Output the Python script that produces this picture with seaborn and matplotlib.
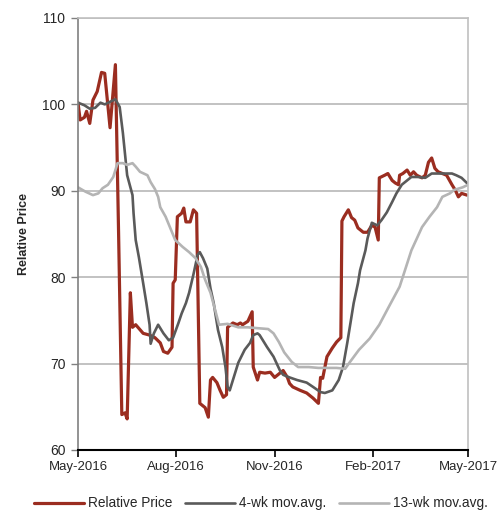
import numpy as np
import pandas as pd
import matplotlib.pyplot as plt
import matplotlib.dates as mdates
import seaborn as sns

# Relative price (daily-ish readings)
price_dates = ['2016-05-01', '2016-05-03', '2016-05-07', '2016-05-09', '2016-05-12', '2016-05-15',
               '2016-05-19', '2016-05-23', '2016-05-26', '2016-05-31', '2016-06-05', '2016-06-08',
               '2016-06-11', '2016-06-14', '2016-06-16', '2016-06-19', '2016-06-21', '2016-06-24',
               '2016-07-01', '2016-07-07', '2016-07-12', '2016-07-17', '2016-07-20', '2016-07-24',
               '2016-07-28', '2016-07-29', '2016-07-31', '2016-08-02', '2016-08-06', '2016-08-08',
               '2016-08-10', '2016-08-14', '2016-08-17', '2016-08-20', '2016-08-23', '2016-08-28',
               '2016-08-31', '2016-09-02', '2016-09-04', '2016-09-08', '2016-09-11', '2016-09-14',
               '2016-09-17', '2016-09-18', '2016-09-23', '2016-09-27', '2016-09-30', '2016-10-02',
               '2016-10-07', '2016-10-11', '2016-10-12', '2016-10-16', '2016-10-18', '2016-10-23',
               '2016-10-28', '2016-11-01', '2016-11-06', '2016-11-09', '2016-11-13', '2016-11-15',
               '2016-11-18', '2016-11-25', '2016-12-01', '2016-12-07', '2016-12-12', '2016-12-14',
               '2016-12-16', '2016-12-20', '2016-12-25', '2016-12-29', '2017-01-02', '2017-01-03',
               '2017-01-05', '2017-01-09', '2017-01-12', '2017-01-15', '2017-01-18', '2017-01-23',
               '2017-01-27', '2017-01-31', '2017-02-03', '2017-02-06', '2017-02-07', '2017-02-12',
               '2017-02-15', '2017-02-19', '2017-02-22', '2017-02-25', '2017-02-26', '2017-03-01',
               '2017-03-05', '2017-03-08', '2017-03-11', '2017-03-14', '2017-03-19', '2017-03-22',
               '2017-03-25', '2017-03-28', '2017-03-31', '2017-04-03', '2017-04-07', '2017-04-11',
               '2017-04-16', '2017-04-19', '2017-04-22', '2017-04-25', '2017-04-30']
price_vals = [100.2, 98.2, 98.5, 99.2, 97.8, 100.5,
              101.5, 103.7, 103.6, 97.3, 104.6, 85.0,
              64.1, 64.3, 63.6, 78.2, 74.2, 74.5,
              73.5, 73.3, 73.0, 72.4, 71.4, 71.2,
              71.9, 79.3, 79.7, 87.0, 87.4, 88.0,
              86.4, 86.4, 87.8, 87.4, 65.4, 64.9,
              63.8, 68.1, 68.4, 67.8, 66.9, 66.1,
              66.4, 74.2, 74.7, 74.5, 74.7, 74.5,
              74.9, 76.0, 69.6, 68.1, 69.0, 68.9,
              69.0, 68.4, 68.9, 69.2, 68.4, 67.7,
              67.3, 66.9, 66.6, 66.0, 65.4, 68.4,
              68.3, 70.8, 71.8, 72.5, 73.0, 86.5,
              87.0, 87.8, 86.9, 86.6, 85.7, 85.2,
              85.2, 86.0, 85.8, 84.3, 91.5, 91.8,
              92.0, 91.2, 90.9, 90.7, 91.8, 92.0,
              92.4, 91.8, 92.2, 91.8, 91.5, 91.8,
              93.3, 93.8, 92.6, 92.2, 92.0, 91.8,
              90.7, 90.1, 89.3, 89.7, 89.5]

# 4-week moving average
ma4_dates = ['2016-05-01', '2016-05-07', '2016-05-12', '2016-05-17', '2016-05-22', '2016-05-26',
             '2016-05-31', '2016-06-05', '2016-06-09', '2016-06-12', '2016-06-16', '2016-06-21',
             '2016-06-22', '2016-06-24', '2016-06-27', '2016-07-01', '2016-07-04', '2016-07-07',
             '2016-07-08', '2016-07-11', '2016-07-15', '2016-07-20', '2016-07-25', '2016-07-29',
             '2016-08-03', '2016-08-06', '2016-08-10', '2016-08-13', '2016-08-17', '2016-08-21',
             '2016-08-23', '2016-08-26', '2016-08-30', '2016-09-02', '2016-09-05', '2016-09-09',
             '2016-09-13', '2016-09-16', '2016-09-18', '2016-09-20', '2016-09-23', '2016-09-28',
             '2016-10-04', '2016-10-09', '2016-10-12', '2016-10-16', '2016-10-18', '2016-10-25',
             '2016-10-31', '2016-11-06', '2016-11-09', '2016-11-15', '2016-11-22', '2016-12-01',
             '2016-12-07', '2016-12-14', '2016-12-18', '2016-12-25', '2016-12-31', '2017-01-04',
             '2017-01-08', '2017-01-11', '2017-01-14', '2017-01-18', '2017-01-20', '2017-01-25',
             '2017-01-27', '2017-01-31', '2017-02-05', '2017-02-09', '2017-02-14', '2017-02-19',
             '2017-02-23', '2017-02-28', '2017-03-05', '2017-03-09', '2017-03-15', '2017-03-22',
             '2017-03-28', '2017-04-03', '2017-04-09', '2017-04-16', '2017-04-20', '2017-04-25',
             '2017-04-30']
ma4_vals = [100.2, 99.9, 99.5, 99.6, 100.2, 100.0,
            100.3, 100.6, 99.7, 96.7, 91.8, 89.5,
            87.4, 84.3, 82.3, 79.3, 77.0, 74.5,
            72.3, 73.5, 74.5, 73.5, 72.7, 73.0,
            74.7, 75.8, 77.0, 78.2, 80.3, 82.6,
            82.9, 82.2, 81.0, 78.7, 77.0, 73.9,
            71.9, 69.6, 67.3, 66.9, 68.1, 70.1,
            71.6, 72.4, 73.3, 73.5, 73.3, 71.9,
            70.8, 69.2, 68.7, 68.4, 68.1, 67.8,
            67.3, 66.7, 66.6, 66.9, 68.1, 69.6,
            72.4, 74.7, 77.0, 79.3, 80.8, 83.1,
            84.5, 86.3, 86.0, 86.6, 87.5, 88.7,
            89.7, 90.7, 91.2, 91.6, 91.6, 91.5,
            92.0, 92.0, 92.0, 92.0, 91.8, 91.5,
            90.9]

# 13-week moving average
ma13_dates = ['2016-05-01', '2016-05-08', '2016-05-15', '2016-05-20', '2016-05-24', '2016-05-29',
              '2016-06-03', '2016-06-07', '2016-06-12', '2016-06-16', '2016-06-21', '2016-06-24',
              '2016-06-28', '2016-07-05', '2016-07-08', '2016-07-12', '2016-07-15', '2016-07-17',
              '2016-07-22', '2016-07-27', '2016-07-31', '2016-08-07', '2016-08-13', '2016-08-19',
              '2016-08-24', '2016-08-28', '2016-09-02', '2016-09-07', '2016-09-10', '2016-09-18',
              '2016-09-28', '2016-10-07', '2016-10-16', '2016-10-26', '2016-10-31', '2016-11-05',
              '2016-11-10', '2016-11-17', '2016-11-23', '2016-12-03', '2016-12-12', '2016-12-21',
              '2016-12-29', '2017-01-06', '2017-01-10', '2017-01-19', '2017-01-29', '2017-02-07',
              '2017-02-16', '2017-02-26', '2017-03-03', '2017-03-09', '2017-03-19', '2017-03-26',
              '2017-04-02', '2017-04-07', '2017-04-14', '2017-04-18', '2017-04-26', '2017-05-01']
ma13_vals = [90.4, 89.9, 89.5, 89.7, 90.3, 90.7,
             91.6, 93.2, 93.2, 93.0, 93.2, 92.8,
             92.2, 91.8, 91.0, 90.2, 89.3, 88.1,
             87.0, 85.5, 84.3, 83.5, 82.9, 82.2,
             81.2, 79.7, 78.2, 75.9, 74.5, 74.6,
             74.2, 74.2, 74.1, 74.0, 73.5, 72.5,
             71.3, 70.2, 69.6, 69.6, 69.5, 69.5,
             69.5, 69.4, 70.1, 71.6, 72.9, 74.5,
             76.6, 78.9, 80.8, 83.1, 85.8, 87.0,
             88.1, 89.3, 89.7, 90.1, 90.4, 90.7]

tick_dates = ['2016-05-01', '2016-08-01', '2016-11-01', '2017-02-01', '2017-05-01']

sns.set_style("white")
plt.rcParams['font.family'] = ['Liberation Sans', 'DejaVu Sans']

fig = plt.figure(figsize=(4.97, 5.12), dpi=100)
ax = fig.add_axes([78 / 497, 1 - 450 / 512, 390 / 497, 432 / 512])

price = pd.DataFrame({'date': pd.to_datetime(price_dates), 'value': price_vals})
ma4 = pd.DataFrame({'date': pd.to_datetime(ma4_dates), 'value': ma4_vals})
ma13 = pd.DataFrame({'date': pd.to_datetime(ma13_dates), 'value': ma13_vals})

sns.lineplot(data=price, x='date', y='value', ax=ax, color='#9b2d20', linewidth=2.3,
             label='Relative Price')
sns.lineplot(data=ma4, x='date', y='value', ax=ax, color='#5a5a5a', linewidth=1.9,
             label='4-wk mov.avg.')
sns.lineplot(data=ma13, x='date', y='value', ax=ax, color='#b4b4b4', linewidth=1.9,
             label='13-wk mov.avg.')

ax.set_xlim(pd.Timestamp('2016-05-01'), pd.Timestamp('2017-05-01'))
ax.set_ylim(60, 110)
ax.set_yticks([60, 70, 80, 90, 100, 110])
ax.set_xticks(pd.to_datetime(tick_dates))
ax.xaxis.set_major_formatter(mdates.DateFormatter('%b-%Y'))

ax.yaxis.grid(True, color='#b8b8b8', linewidth=1.2)
ax.set_axisbelow(True)
ax.set_xlabel('')
ax.set_ylabel('Relative Price', fontsize=9, fontweight='bold', labelpad=9)

for side in ['top', 'right']:
    ax.spines[side].set_color('#c0c0c0')
    ax.spines[side].set_linewidth(1.2)
ax.spines['left'].set_color('#808080')
ax.spines['left'].set_linewidth(1.2)
ax.spines['bottom'].set_color('black')
ax.spines['bottom'].set_linewidth(1.5)

ax.tick_params(axis='y', direction='out', length=5, width=1, color='#808080',
               labelsize=10, pad=4, left=True)
ax.tick_params(axis='x', direction='out', length=5, width=1.2, color='black',
               labelsize=9.5, pad=3, bottom=True)

handles, labels = ax.get_legend_handles_labels()
ax.get_legend().remove()
fig.legend(handles, labels, loc='center', bbox_to_anchor=(0.525, 0.017), ncol=3,
           frameon=False, fontsize=9.8, handlelength=3.7, handletextpad=0.3,
           columnspacing=0.9, borderaxespad=0, borderpad=0)

plt.savefig('out.png', dpi=100)
